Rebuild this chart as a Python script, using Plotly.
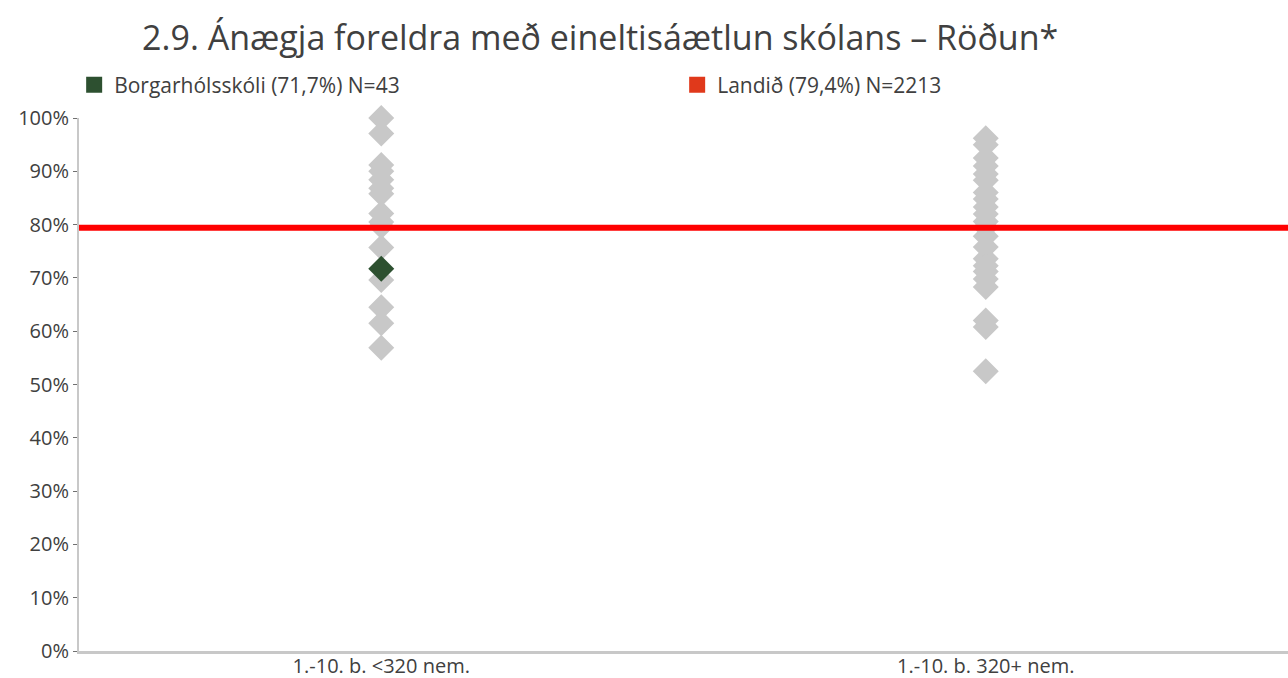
import plotly.graph_objects as go

# School groups on the x axis
categories = ["1.-10. b. <320 nem.", "1.-10. b. 320+ nem."]

# Satisfaction (%) for each school in the smaller-school group
small_schools = [100.0, 97.1, 91.2, 90.0, 88.4, 86.8, 85.8, 82.1, 80.5, 79.7,
                 75.7, 69.6, 64.5, 61.5, 56.9]
# Satisfaction (%) for each school in the larger-school group
large_schools = [96.2, 95.0, 92.5, 91.0, 89.5, 88.3, 86.0, 84.8, 83.3, 82.0,
                 80.6, 79.5, 77.8, 75.8, 73.6, 72.3, 71.2, 69.8, 68.3, 62.0,
                 60.8, 52.5]

school_name = "Borgarhólsskóli"
school_value = 71.7
school_n = 43
school_group = categories[0]

national_value = 79.4
national_n = 2213

y_ticks = list(range(0, 101, 10))
y_tick_labels = [f"{v}%" for v in y_ticks]

GRAY = "#C8C8C8"
GREEN = "#2D5030"
RED = "#FF0000"
LEGEND_RED = "#E0391B"
TEXT = "#404040"
FONT = "Open Sans"

fig = go.Figure()

# Benchmark line for the whole country
fig.add_trace(go.Scatter(
    x=[-0.5, 1.5], y=[national_value, national_value],
    mode="lines", line=dict(color=RED, width=6),
    xaxis="x2", showlegend=False, hoverinfo="skip",
))

# All schools, both groups
fig.add_trace(go.Scatter(
    x=[categories[0]] * len(small_schools) + [categories[1]] * len(large_schools),
    y=small_schools + large_schools,
    mode="markers",
    marker=dict(symbol="diamond", size=20, color=GRAY, line=dict(width=0)),
    showlegend=False, cliponaxis=False,
))

# The highlighted school
fig.add_trace(go.Scatter(
    x=[school_group], y=[school_value],
    mode="markers",
    marker=dict(symbol="diamond", size=20, color=GREEN, line=dict(width=0)),
    showlegend=False, cliponaxis=False,
))

# Legend entries
fig.add_trace(go.Scatter(
    x=[None], y=[None], mode="markers",
    marker=dict(symbol="square", size=17, color=GREEN),
    name=f"{school_name} ({str(school_value).replace('.', ',')}%) N={school_n}",
))
fig.add_trace(go.Scatter(
    x=[None], y=[None], mode="markers",
    marker=dict(symbol="square", size=17, color=LEGEND_RED),
    name=f"Landið ({str(national_value).replace('.', ',')}%) N={national_n}",
))

fig.update_layout(
    width=1288, height=678,
    margin=dict(l=79, r=0, t=118, b=27, autoexpand=False),
    paper_bgcolor="white", plot_bgcolor="white",
    font=dict(family=FONT, color=TEXT, size=20),
    title=dict(
        text="2.9. Ánægja foreldra með eineltisáætlun skólans – Röðun*",
        x=0.466, xanchor="center", y=0.944, yanchor="middle",
        font=dict(family=FONT, size=34, color=TEXT),
    ),
    legend=dict(
        orientation="h", x=-0.004, xanchor="left", y=1.10, yanchor="top",
        font=dict(family=FONT, size=21, color=TEXT),
        entrywidth=558, entrywidthmode="pixels",
        itemclick=False, itemdoubleclick=False,
        bgcolor="rgba(0,0,0,0)",
    ),
    xaxis=dict(
        type="category", categoryarray=categories, range=[-0.5, 1.5],
        showgrid=False, showline=True, linecolor=GRAY, linewidth=3,
        ticks="", tickfont=dict(family=FONT, size=20, color=TEXT),
        ticklabelstandoff=-5,
        zeroline=False, fixedrange=True, automargin=False,
    ),
    xaxis2=dict(
        overlaying="x", range=[-0.5, 1.5], visible=False, fixedrange=True,
    ),
    yaxis=dict(
        range=[0, 100], tickvals=y_ticks, ticktext=y_tick_labels,
        showgrid=False, zeroline=False, showline=True, linecolor=GRAY,
        linewidth=2, ticks="outside", ticklen=4, tickcolor="#707070",
        tickwidth=1, tickfont=dict(family=FONT, size=20, color=TEXT),
        fixedrange=True, automargin=False,
    ),
)

fig.write_html("out.html")
